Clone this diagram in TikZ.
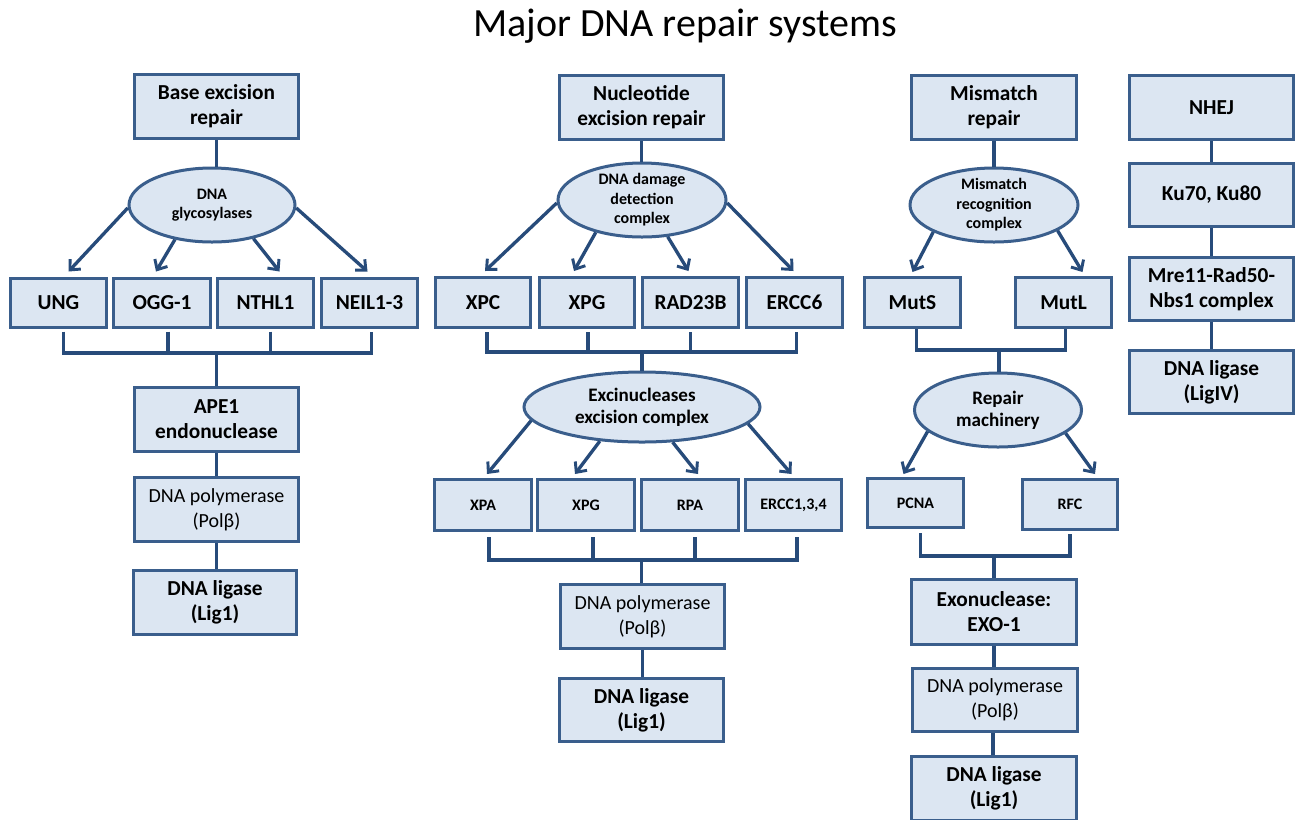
\documentclass[tikz,border=0pt]{standalone}
\usepackage{fontspec}
\setmainfont{Carlito}
\usetikzlibrary{shapes.geometric,arrows.meta,calc}
\definecolor{bordc}{HTML}{3A5E8C}
\definecolor{fillc}{HTML}{DCE6F2}
\definecolor{connc}{HTML}{274B7A}
\begin{document}
\begin{tikzpicture}[x=0.75pt,y=-0.75pt,
  sz/.style 2 args={minimum width=#1*0.75pt-2.25pt, minimum height=#2*0.75pt-2.25pt},
  box/.style={draw=bordc, fill=fillc, line width=2.25pt, rectangle, align=center, inner sep=0pt,
    font=\bfseries\fontsize{16pt}{18.75pt}\selectfont},
  box2/.style={box},
  plainbox/.style={box, font=\fontsize{15pt}{18.75pt}\selectfont},
  smallbox/.style={box, font=\bfseries\fontsize{12pt}{15pt}\selectfont},
  oval/.style={draw=bordc, fill=fillc, line width=2.25pt, ellipse, align=center, inner sep=-4.5pt},
  ovalsmall/.style={oval, font=\bfseries\fontsize{12pt}{14.7pt}\selectfont},
  ovalbig/.style={oval, font=\bfseries\fontsize{14.3pt}{16.5pt}\selectfont},
  conn/.style={draw=connc, line width=2.5pt},
  arr/.style={conn, -{Straight Barb[length=6pt, width=11pt, line width=2.2pt]}}
]
\useasboundingbox[fill=white] (0,0) rectangle (1296,819);

\node[font=\fontsize{30pt}{36pt}\selectfont, anchor=base] (title) at (685,36) {Major DNA repair systems};

% ---------- Base excision repair ----------
\node[box2, sz={167}{67}] (ber) at (216.5,106.5) {Base excision\\repair};
\node[ovalsmall, minimum width=166*0.75pt, minimum height=74*0.75pt] (gly) at (212,205) {DNA\\glycosylases};
\node[box, sz={99}{52}] (ung) at (58.5,302.5) {UNG};
\node[box, sz={100}{52}] (ogg) at (162,302.5) {OGG-1};
\node[box, sz={99}{52}] (nthl) at (265.5,302.5) {NTHL1};
\node[box, sz={99}{52}] (neil) at (369.5,302.5) {NEIL1-3};
\node[box2, sz={167}{67}] (ape) at (216.5,419.5) {APE1\\endonuclease};
\node[plainbox, sz={167}{67}] (berpol) at (216.5,509.5) {DNA polymerase\\(Polβ)};
\node[box2, sz={166}{67}] (berlig) at (215,602.5) {DNA ligase\\(Lig1)};

\draw[conn] (ber.south) -- (ber.south |- gly.north);
\draw[arr] (gly.182) -- ($(ung.north)+(10,-5)$);
\draw[arr] (gly.223) -- ($(ogg.north)+(-6,-5)$);
\draw[arr] (gly.321) -- ($(nthl.north)+(14,-5)$);
\draw[arr] (gly.358) -- ($(neil.north)+(-2,-5)$);
\coordinate (berbar) at (0,353);
\draw[conn] ($(ung.south)+(5,3)$) -- ($(ung.south |- berbar)+(5,0)$) -- ($(neil.south |- berbar)+(2,0)$) -- ($(neil.south)+(2,3)$);
\draw[conn] ($(ogg.south)+(6,3)$) -- ($(ogg.south |- berbar)+(6,0)$);
\draw[conn] ($(nthl.south)+(5,3)$) -- ($(nthl.south |- berbar)+(5,0)$);
\draw[conn] (ape.north) -- (ape.north |- berbar);
\draw[conn] (ape.south) -- (ape.south |- berpol.north);
\draw[conn] (berpol.south) -- (berpol.south |- berlig.north);

% ---------- Nucleotide excision repair ----------
\node[box2, sz={167}{67}] (ner) at (641.5,107.5) {Nucleotide\\excision repair};
\node[ovalsmall, minimum width=168*0.75pt, minimum height=74*0.75pt] (ddc) at (642,200) {DNA damage\\detection\\complex};
\node[box, sz={98}{53}] (xpc) at (483,302.5) {XPC};
\node[box, sz={98}{53}] (xpga) at (587,302.5) {XPG};
\node[box, sz={99}{53}] (rad) at (690.5,302.5) {RAD23B};
\node[box, sz={99}{53}] (ercca) at (794.5,302.5) {ERCC6};
\node[ovalbig, minimum width=236*0.75pt, minimum height=70*0.75pt] (exc) at (642,407) {Excinucleases\\excision complex};
\node[smallbox, sz={100}{54}] (xpa) at (483,505) {XPA};
\node[smallbox, sz={100}{54}] (xpgb) at (586,505) {XPG};
\node[smallbox, sz={100}{54}] (rpa) at (690,505) {RPA};
\node[smallbox, sz={99}{54}] (erccb) at (793.5,505) {ERCC1,3,4};
\node[plainbox, sz={167}{67}] (nerpol) at (642.5,616.5) {DNA polymerase\\(Polβ)};
\node[box2, sz={167}{66}] (nerlig) at (641.5,710) {DNA ligase\\(Lig1)};

\draw[conn] (ner.south) -- (ner.south |- ddc.north);
\draw[arr] (ddc.182) -- ($(xpc.north)+(2,-5)$);
\draw[arr] (ddc.215) -- ($(xpga.north)+(-13,-5)$);
\draw[arr] (ddc.305) -- ($(rad.north)+(-2,-5)$);
\draw[arr] (ddc.358) -- ($(ercca.north)+(-1,-5)$);
\coordinate (nerbar) at (0,352);
\draw[conn] ($(xpc.south)+(4,3)$) -- ($(xpc.south |- nerbar)+(4,0)$) -- ($(ercca.south |- nerbar)+(2,0)$) -- ($(ercca.south)+(2,3)$);
\draw[conn] ($(xpga.south)+(1,3)$) -- ($(xpga.south |- nerbar)+(1,0)$);
\draw[conn] ($(rad.south)+(0,3)$) -- ($(rad.south |- nerbar)$);
\draw[conn] (exc.north) -- (exc.north |- nerbar);
\draw[arr] (exc.187) -- ($(xpa.north)+(4,-4)$);
\draw[arr] (exc.219) -- ($(xpgb.north)+(-11,-4)$);
\draw[arr] (exc.311) -- ($(rpa.north)+(8,-4)$);
\draw[arr] (exc.351) -- ($(erccb.north)+(-2,-4)$);
\coordinate (nerbarb) at (0,560);
\draw[conn] ($(xpa.south)+(6,5)$) -- ($(xpa.south |- nerbarb)+(6,0)$) -- ($(erccb.south |- nerbarb)+(3.5,0)$) -- ($(erccb.south)+(3.5,5)$);
\draw[conn] ($(xpgb.south)+(7,5)$) -- ($(xpgb.south |- nerbarb)+(7,0)$);
\draw[conn] ($(rpa.south)+(5,5)$) -- ($(rpa.south |- nerbarb)+(5,0)$);
\draw[conn] ($(nerpol.north)+(-1,0)$) -- ($(nerpol.north |- nerbarb)+(-1,0)$);
\draw[conn] (nerpol.south) -- (nerpol.south |- nerlig.north);

% ---------- Mismatch repair ----------
\node[box2, sz={168}{67}] (mmr) at (994,107) {Mismatch\\repair};
\node[ovalsmall, minimum width=168*0.75pt, minimum height=74*0.75pt] (mrc) at (994,205) {Mismatch\\recognition\\complex};
\node[box, sz={99}{53}] (muts) at (912.5,302.5) {MutS};
\node[box, sz={99}{53}] (mutl) at (1063.5,302.5) {MutL};
\node[ovalbig, minimum width=167*0.75pt, minimum height=74*0.75pt] (rm) at (998,410) {Repair\\machinery};
\node[smallbox, sz={99}{52}] (pcna) at (915.5,503) {PCNA};
\node[smallbox, sz={98}{53}] (rfc) at (1070,504.5) {RFC};
\node[box2, sz={168}{68}] (exo) at (994,612) {Exonuclease:\\EXO-1};
\node[plainbox, sz={168}{66}] (mmrpol) at (995,700) {DNA polymerase\\(Polβ)};
\node[box2, sz={168}{67}] (mmrlig) at (994,788.5) {DNA ligase\\(Lig1)};

\draw[conn] (mmr.south) -- (mmr.south |- mrc.north);
\draw[arr] (mrc.204) -- ($(muts.north)+(0,-4)$);
\draw[arr] (mrc.338) -- ($(mutl.north)+(19,-4)$);
\coordinate (mmrbar) at (0,350);
\draw[conn] ($(muts.south)+(4,0)$) -- ($(muts.south |- mmrbar)+(4,0)$) -- ($(mutl.south |- mmrbar)+(2,0)$) -- ($(mutl.south)+(2,0)$);
\draw[conn] ($(rm.north)+(1,0)$) -- ($(rm.north |- mmrbar)+(1,0)$);
\draw[arr] (rm.197) -- ($(pcna.north)+(-12,-3)$);
\draw[arr] (rm.341) -- ($(rfc.north)+(25,-4)$);
\coordinate (mmrbarb) at (0,556);
\draw[conn] ($(pcna.south)+(5,4)$) -- ($(pcna.south |- mmrbarb)+(5,0)$) -- ($(rfc.south |- mmrbarb)+(0,0)$) -- ($(rfc.south)+(0,3)$);
\draw[conn] (exo.north) -- (exo.north |- mmrbarb);
\draw[conn] (exo.south) -- (exo.south |- mmrpol.north);
\draw[conn] ($(mmrpol.south)+(-2,0)$) -- ($(mmrpol.south |- mmrlig.north)+(-2,0)$);

% ---------- NHEJ ----------
\node[box, sz={167}{67}] (nhej) at (1211.5,107.5) {NHEJ};
\node[box, sz={167}{66}] (ku) at (1211.5,195) {Ku70, Ku80};
\node[box2, sz={167}{66}] (mre) at (1211.5,289) {Mre11-Rad50-\\Nbs1 complex};
\node[box2, sz={167}{66}] (lig4) at (1211.5,382) {DNA ligase\\(LigIV)};
\draw[conn] (nhej.south) -- (ku.north);
\draw[conn] (ku.south) -- (mre.north);
\draw[conn] (mre.south) -- (lig4.north);
\end{tikzpicture}
\end{document}
